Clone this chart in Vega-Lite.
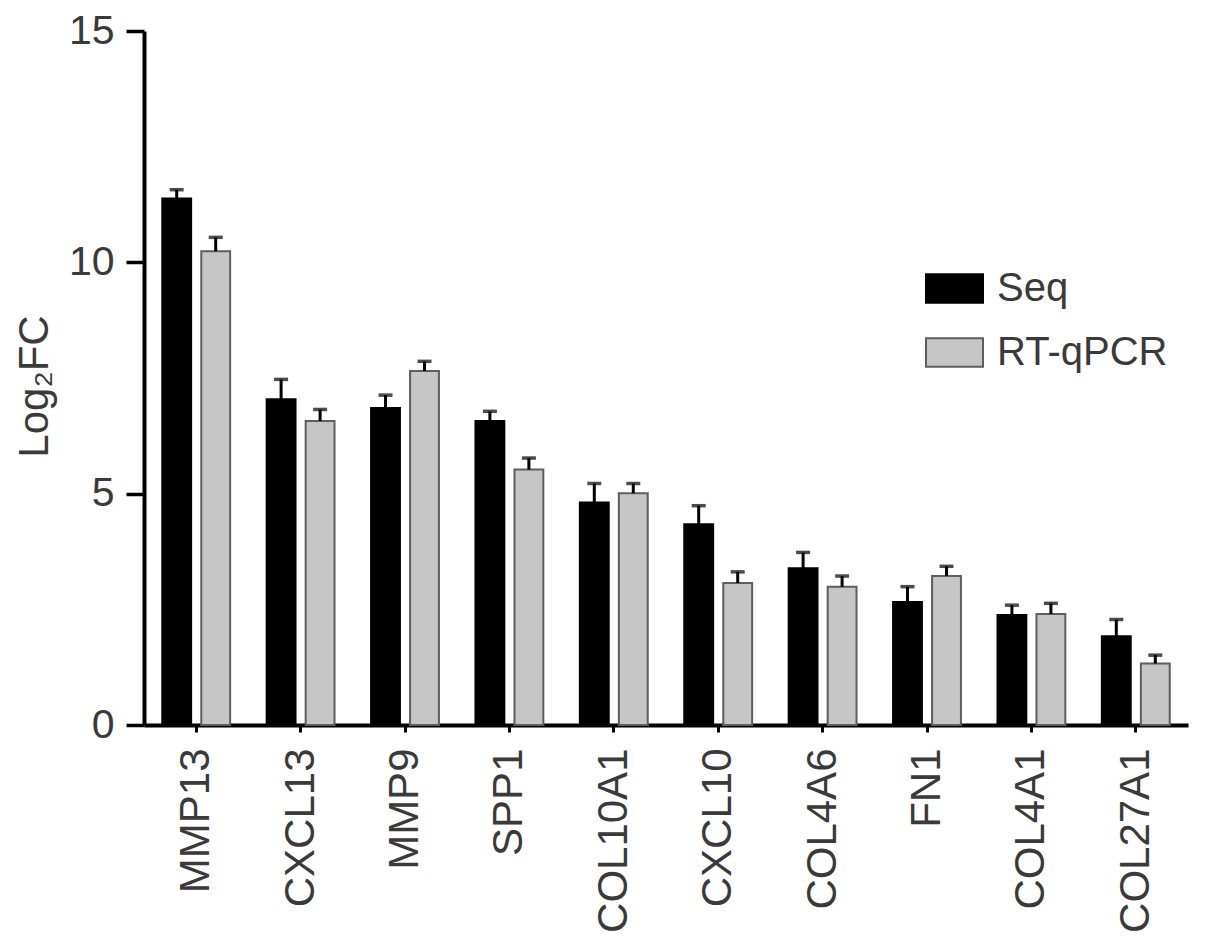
{
  "$schema": "https://vega.github.io/schema/vega-lite/v6.json",
  "autosize": {"type": "none"},
  "padding": {"left": 144, "top": 31, "right": 17, "bottom": 222},
  "width": 1044,
  "height": 694,
  "background": "white",
  "config": {
    "view": {"stroke": null},
    "font": "Liberation Sans",
    "axis": {"grid": false, "labelColor": "#3a3a3a", "titleColor": "#3a3a3a", "titleFontWeight": "normal", "labelLimit": 400}
  },
  "data": {
    "values": [
      {"gene": "MMP13", "method": "Seq", "value": 11.38, "upper": 11.57},
      {"gene": "MMP13", "method": "RT-qPCR", "value": 10.24, "upper": 10.54},
      {"gene": "CXCL13", "method": "Seq", "value": 7.04, "upper": 7.47},
      {"gene": "CXCL13", "method": "RT-qPCR", "value": 6.57, "upper": 6.82},
      {"gene": "MMP9", "method": "Seq", "value": 6.85, "upper": 7.13},
      {"gene": "MMP9", "method": "RT-qPCR", "value": 7.65, "upper": 7.86},
      {"gene": "SPP1", "method": "Seq", "value": 6.57, "upper": 6.78},
      {"gene": "SPP1", "method": "RT-qPCR", "value": 5.52, "upper": 5.77},
      {"gene": "COL10A1", "method": "Seq", "value": 4.81, "upper": 5.22},
      {"gene": "COL10A1", "method": "RT-qPCR", "value": 5.01, "upper": 5.22},
      {"gene": "CXCL10", "method": "Seq", "value": 4.34, "upper": 4.74},
      {"gene": "CXCL10", "method": "RT-qPCR", "value": 3.07, "upper": 3.31},
      {"gene": "COL4A6", "method": "Seq", "value": 3.39, "upper": 3.73},
      {"gene": "COL4A6", "method": "RT-qPCR", "value": 2.99, "upper": 3.22},
      {"gene": "FN1", "method": "Seq", "value": 2.66, "upper": 2.99},
      {"gene": "FN1", "method": "RT-qPCR", "value": 3.22, "upper": 3.43},
      {"gene": "COL4A1", "method": "Seq", "value": 2.38, "upper": 2.59},
      {"gene": "COL4A1", "method": "RT-qPCR", "value": 2.40, "upper": 2.63},
      {"gene": "COL27A1", "method": "Seq", "value": 1.92, "upper": 2.28},
      {"gene": "COL27A1", "method": "RT-qPCR", "value": 1.33, "upper": 1.51}
    ]
  },
  "encoding": {
    "x": {
      "field": "gene", "type": "nominal",
      "sort": ["MMP13", "CXCL13", "MMP9", "SPP1", "COL10A1", "CXCL10", "COL4A6", "FN1", "COL4A1", "COL27A1"],
      "scale": {"paddingInner": 0.35, "paddingOuter": 0.175},
      "axis": {
        "title": null, "labelAngle": -90, "labelFontSize": 42, "labelPadding": 16,
        "tickSize": 7, "tickWidth": 3, "tickColor": "black",
        "domainColor": "black", "domainWidth": 4
      }
    },
    "xOffset": {
      "field": "method", "type": "nominal", "sort": ["Seq", "RT-qPCR"],
      "scale": {"paddingInner": 0.26}
    }
  },
  "layer": [
    {
      "mark": {"type": "bar", "strokeWidth": 2},
      "encoding": {
        "y": {
          "field": "value", "type": "quantitative",
          "scale": {"domain": [0, 15], "nice": false},
          "axis": {
            "values": [0, 5, 10, 15], "title": "Log₂FC",
            "labelFontSize": 41, "labelPadding": 12,
            "tickSize": 18, "tickWidth": 3.5, "tickColor": "black",
            "domainColor": "black", "domainWidth": 4,
            "titleFontSize": 42, "titleX": -97, "titleY": 355,
            "titleBaseline": "alphabetic", "titleAlign": "center", "titleAngle": -90
          }
        },
        "fill": {
          "field": "method", "type": "nominal",
          "scale": {"domain": ["Seq", "RT-qPCR"], "range": ["#000000", "#c6c6c6"]},
          "legend": {
            "title": null, "orient": "none", "legendX": 781, "legendY": 228,
            "symbolType": "M-1,-0.5H1V0.5H-1Z", "symbolSize": 3249, "symbolStrokeWidth": 2,
            "labelFontSize": 40, "labelColor": "#3a3a3a", "labelOffset": 13, "rowPadding": 14,
            "labelLimit": 400
          }
        },
        "stroke": {
          "field": "method", "type": "nominal",
          "scale": {"domain": ["Seq", "RT-qPCR"], "range": ["#000000", "#5e5e5e"]},
          "legend": null
        }
      }
    },
    {
      "mark": {"type": "rule", "strokeWidth": 3, "color": "black"},
      "encoding": {
        "y": {"field": "value", "type": "quantitative"},
        "y2": {"field": "upper"}
      }
    },
    {
      "mark": {"type": "tick", "size": 14, "thickness": 3.5, "color": "black", "orient": "horizontal"},
      "encoding": {
        "y": {"field": "upper", "type": "quantitative"}
      }
    }
  ]
}
